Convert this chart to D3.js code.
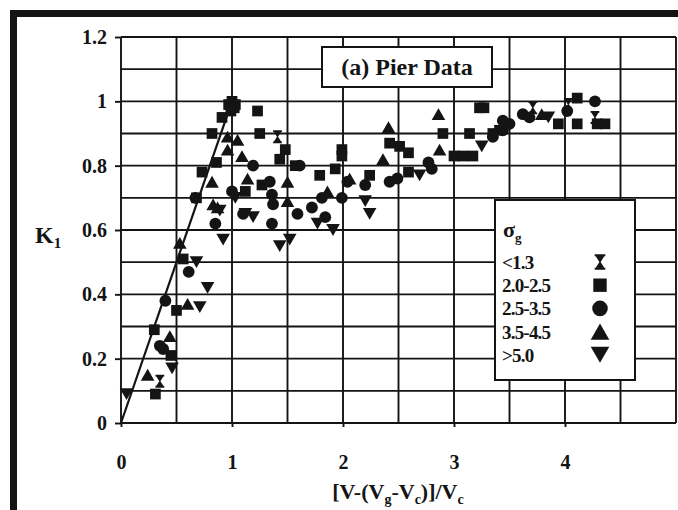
<!DOCTYPE html>
<html>
<head>
<meta charset="utf-8">
<script src="https://cdn.jsdelivr.net/npm/d3@7"></script>
<style>
  body { margin: 0; background: #fff; }
  svg { display: block; }
  text { font-family: "Liberation Serif", "Times New Roman", serif; font-weight: bold; fill: #141414; }
</style>
</head>
<body>
<svg id="chart" width="678" height="510"></svg>
<script>
// ---- data ----
const xTicks = [0, 1, 2, 3, 4];
const yTicks = [0, 0.2, 0.4, 0.6, 0.8, 1, 1.2];
const legendLabels = ["<1.3", "2.0-2.5", "2.5-3.5", "3.5-4.5", ">5.0"];
const titleText = "(a) Pier Data";

// envelope line K1 = x up to 1
const envelope = [[0, 0], [1, 1]];

// sigma_g < 1.3
const sigmaLt13 = [[1.41, 0.89], [3.71, 0.98], [4.03, 0.99], [4.27, 0.95], [0.35, 0.13]];

// sigma_g 2.0-2.5
const sigma20to25 = [
  [0.97, 0.99], [1.0, 1.0], [1.03, 0.99], [0.99, 0.97], [1.02, 0.98], [0.91, 0.95],
  [1.23, 0.97], [0.82, 0.9], [1.25, 0.9], [0.86, 0.81], [0.73, 0.78], [0.68, 0.7],
  [1.12, 0.72], [1.27, 0.74], [1.48, 0.85], [1.43, 0.82], [1.57, 0.8], [1.99, 0.85],
  [1.99, 0.83], [2.42, 0.87], [2.51, 0.86], [2.59, 0.84], [1.79, 0.77], [1.93, 0.79],
  [2.24, 0.77], [2.59, 0.78], [3.0, 0.83], [3.08, 0.83], [3.17, 0.83], [2.9, 0.9],
  [3.14, 0.9], [3.23, 0.98], [3.27, 0.98], [3.41, 0.91], [3.35, 0.9], [3.94, 0.93],
  [4.11, 1.01], [4.11, 0.93], [4.29, 0.93], [4.36, 0.93], [0.31, 0.09], [0.5, 0.35],
  [0.3, 0.29], [0.56, 0.51], [0.45, 0.21]
];

// sigma_g 2.5-3.5
const sigma25to35 = [
  [0.4, 0.38], [0.61, 0.47], [0.35, 0.24], [0.38, 0.23], [0.67, 0.7], [0.85, 0.62],
  [1.0, 0.72], [1.1, 0.65], [1.36, 0.62], [1.36, 0.71], [1.19, 0.8], [1.34, 0.75],
  [1.61, 0.8], [1.72, 0.67], [1.81, 0.7], [1.84, 0.64], [1.59, 0.65], [1.37, 0.68],
  [2.04, 0.75], [2.2, 0.74], [1.99, 0.7], [2.42, 0.75], [2.49, 0.76], [2.8, 0.79],
  [2.77, 0.81], [3.35, 0.89], [3.44, 0.91], [3.5, 0.93], [3.44, 0.94], [3.62, 0.96],
  [3.68, 0.95], [4.02, 0.97], [4.27, 1.0]
];

// sigma_g 3.5-4.5
const sigma35to45 = [
  [0.24, 0.15], [0.44, 0.27], [0.6, 0.37], [0.53, 0.56], [0.96, 0.89], [1.05, 0.88],
  [0.96, 0.85], [1.09, 0.83], [0.82, 0.75], [1.14, 0.76], [0.87, 0.67], [0.83, 0.68],
  [1.5, 0.75], [1.5, 0.69], [2.06, 0.76], [2.41, 0.92], [2.36, 0.82], [2.86, 0.96],
  [2.87, 0.85], [3.79, 0.96], [1.86, 0.72]
];

// sigma_g > 5.0
const sigmaGt50 = [
  [0.05, 0.09], [0.46, 0.17], [0.71, 0.36], [0.78, 0.42], [0.68, 0.5], [0.92, 0.57],
  [1.03, 0.7], [1.19, 0.64], [1.43, 0.55], [1.52, 0.57], [1.77, 0.62], [1.91, 0.6],
  [2.2, 0.69], [2.24, 0.65], [2.69, 0.77], [3.25, 0.86], [3.85, 0.95], [1.12, 0.65],
  [0.89, 0.66]
];

// ---- drawing ----
const svg = d3.select("#chart");
const ink = "#141414";

const x = d3.scaleLinear().domain([0, 5]).range([121, 676]);
const y = d3.scaleLinear().domain([0, 1.2]).range([423, 37]);

// outer frame (heavy black border on top and left)
svg.append("path")
  .attr("d", "M13.5,510 L13.5,13.5 L678,13.5")
  .attr("fill", "none").attr("stroke", ink).attr("stroke-width", 7);

// grid
const grid = svg.append("g").attr("stroke", ink).attr("stroke-width", 1.9);
grid.selectAll("line.v").data(d3.range(0, 5.01, 0.5)).join("line")
  .attr("x1", d => x(d)).attr("x2", d => x(d))
  .attr("y1", y(0)).attr("y2", y(1.2));
grid.selectAll("line.h").data(d3.range(0, 12.01, 1).map(v => v / 10)).join("line")
  .attr("x1", x(0)).attr("x2", x(5))
  .attr("y1", d => y(d)).attr("y2", d => y(d));

// axes
const yAxis = d3.axisLeft(y).tickValues(yTicks).tickSize(6).tickPadding(8)
  .tickFormat(d => d3.format("~g")(d));
const gy = svg.append("g").attr("transform", `translate(${x(0)},0)`).call(yAxis);
gy.select(".domain").remove();
gy.selectAll("line").attr("stroke", ink).attr("stroke-width", 1.9);
gy.selectAll("text").attr("font-size", 20).style("font-family", "Liberation Serif").style("font-weight", "bold").attr("fill", ink);

const xAxis = d3.axisBottom(x).tickValues(xTicks).tickSize(4).tickPadding(28)
  .tickFormat(d3.format("d"));
const gx = svg.append("g").attr("transform", `translate(0,${y(0)})`).call(xAxis);
gx.select(".domain").remove();
gx.selectAll("line").attr("stroke", ink).attr("stroke-width", 1.9);
gx.selectAll("text").attr("font-size", 20).style("font-family", "Liberation Serif").style("font-weight", "bold").attr("fill", ink);

// axis titles
const xt = svg.append("text").attr("x", 398).attr("y", 499).attr("text-anchor", "middle").attr("font-size", 22);
xt.append("tspan").text("[V-(V");
xt.append("tspan").attr("font-size", 14).attr("dy", 5).text("g");
xt.append("tspan").attr("dy", -5).text("-V");
xt.append("tspan").attr("font-size", 14).attr("dy", 5).text("c");
xt.append("tspan").attr("dy", -5).text(")]/V");
xt.append("tspan").attr("font-size", 14).attr("dy", 5).text("c");

const yt = svg.append("text").attr("x", 35).attr("y", 243).attr("font-size", 24);
yt.append("tspan").text("K");
yt.append("tspan").attr("font-size", 15).attr("dy", 5).text("1");

// envelope line
svg.append("path").datum(envelope)
  .attr("d", d3.line().x(d => x(d[0])).y(d => y(d[1])))
  .attr("fill", "none").attr("stroke", ink).attr("stroke-width", 2.2);

// custom hourglass symbol
const symbolHourglass = {
  draw(ctx, size) {
    const w = Math.sqrt(size) * 0.42, h = Math.sqrt(size) * 0.62, b = h * 0.28, wi = w * 0.8, t = w * 0.12;
    ctx.moveTo(-w, -h); ctx.lineTo(w, -h); ctx.lineTo(w, -h + b); ctx.lineTo(wi, -h + b);
    ctx.lineTo(t, 0); ctx.lineTo(wi, h - b); ctx.lineTo(w, h - b); ctx.lineTo(w, h);
    ctx.lineTo(-w, h); ctx.lineTo(-w, h - b); ctx.lineTo(-wi, h - b); ctx.lineTo(-t, 0);
    ctx.lineTo(-wi, -h + b); ctx.lineTo(-w, -h + b); ctx.closePath();
  }
};
const symbolTriDown = {
  draw(ctx, size) {
    const s = Math.sqrt(size / (Math.sqrt(3) / 4)), hh = s * Math.sqrt(3) / 2;
    ctx.moveTo(-s / 2, -hh / 2); ctx.lineTo(s / 2, -hh / 2); ctx.lineTo(0, hh / 2); ctx.closePath();
  }
};
const symbolTriUp = {
  draw(ctx, size) {
    const s = Math.sqrt(size / (Math.sqrt(3) / 4)), hh = s * Math.sqrt(3) / 2;
    ctx.moveTo(-s / 2, hh / 2); ctx.lineTo(s / 2, hh / 2); ctx.lineTo(0, -hh / 2); ctx.closePath();
  }
};

const series = [
  { data: sigmaLt13, type: symbolHourglass, size: 110 },
  { data: sigma20to25, type: d3.symbolSquare, size: 115 },
  { data: sigma25to35, type: d3.symbolCircle, size: 110 },
  { data: sigma35to45, type: symbolTriUp, size: 80 },
  { data: sigmaGt50, type: symbolTriDown, size: 80 }
];

const marks = svg.append("g").attr("fill", ink);
series.forEach(s => {
  marks.append("g").selectAll("path").data(s.data).join("path")
    .attr("transform", d => `translate(${x(d[0])},${y(d[1])})`)
    .attr("d", d3.symbol().type(s.type).size(s.size));
});

// title box
const tb = svg.append("g");
tb.append("rect").attr("x", 322).attr("y", 47).attr("width", 170).attr("height", 40)
  .attr("fill", "#fff").attr("stroke", ink).attr("stroke-width", 2);
tb.append("text").attr("x", 407).attr("y", 75).attr("text-anchor", "middle")
  .attr("font-size", 24).text(titleText);

// legend
const lg = svg.append("g");
lg.append("rect").attr("x", 495).attr("y", 200).attr("width", 140).attr("height", 180)
  .attr("fill", "#fff").attr("stroke", ink).attr("stroke-width", 2);
const lt = lg.append("text").attr("x", 503).attr("y", 237).attr("font-size", 22);
lt.append("tspan").text("σ");
lt.append("tspan").attr("font-size", 13).attr("dy", 5).text("g");
legendLabels.forEach((lab, i) => {
  const cy = 262 + i * 23.2;
  lg.append("text").attr("x", 502).attr("y", cy + 7).attr("font-size", 19)
    .attr("letter-spacing", -0.8).text(lab);
  lg.append("path").attr("transform", `translate(600,${cy})`)
    .attr("fill", ink)
    .attr("d", d3.symbol().type(series[i].type).size([160, 180, 190, 150, 150][i]));
});
</script>
</body>
</html>
